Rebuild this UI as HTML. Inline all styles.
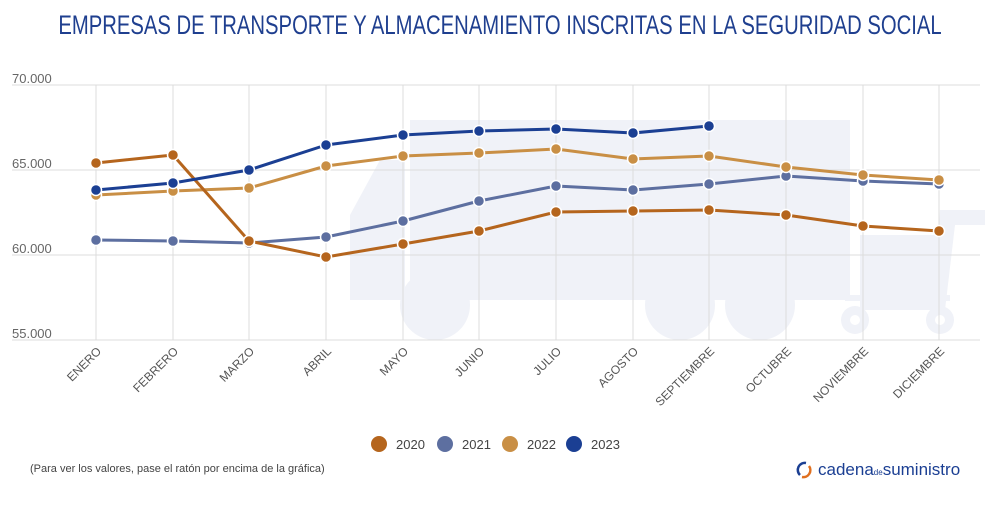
<!DOCTYPE html>
<html><head><meta charset="utf-8"><style>
body{margin:0;background:#fff;width:1000px;height:500px;overflow:hidden;font-family:"Liberation Sans",sans-serif}
</style></head><body>
<svg width="1000" height="500" xmlns="http://www.w3.org/2000/svg" font-family="Liberation Sans, sans-serif">
<text x="500" y="34" text-anchor="middle" font-size="27" fill="#1f3f8f" transform="translate(500,0) scale(0.75,1) translate(-500,0)">EMPRESAS DE TRANSPORTE Y ALMACENAMIENTO INSCRITAS EN LA SEGURIDAD SOCIAL</text>
<!-- watermark -->
<g fill="#f0f2f8">
<rect x="410" y="120" width="440" height="180"/>
<path d="M350 300 L350 215 L380 160 L405 160 L405 300 Z"/>
<circle cx="435" cy="305" r="35"/><circle cx="680" cy="305" r="35"/><circle cx="760" cy="305" r="35"/>
<rect x="860" y="235" width="80" height="75"/>
<path d="M940 210 L985 210 L985 225 L955 225 L945 310 L935 310 Z"/>
<rect x="845" y="295" width="105" height="6"/>
<circle cx="855" cy="320" r="14"/><circle cx="940" cy="320" r="14"/>
</g>
<circle cx="855" cy="320" r="5" fill="#fff"/><circle cx="940" cy="320" r="5" fill="#fff"/>
<!-- grid -->
<g stroke="#dcdcdc" stroke-width="1">
<line x1="12" y1="85" x2="980" y2="85"/><line x1="12" y1="170" x2="980" y2="170"/>
<line x1="12" y1="255" x2="980" y2="255"/><line x1="12" y1="340" x2="980" y2="340"/>
<line x1="96" y1="85" x2="96" y2="340"/><line x1="173" y1="85" x2="173" y2="340"/><line x1="249" y1="85" x2="249" y2="340"/><line x1="326" y1="85" x2="326" y2="340"/><line x1="403" y1="85" x2="403" y2="340"/><line x1="479" y1="85" x2="479" y2="340"/><line x1="556" y1="85" x2="556" y2="340"/><line x1="633" y1="85" x2="633" y2="340"/><line x1="709" y1="85" x2="709" y2="340"/><line x1="786" y1="85" x2="786" y2="340"/><line x1="863" y1="85" x2="863" y2="340"/><line x1="939" y1="85" x2="939" y2="340"/>
</g>
<g font-size="13" fill="#666">
<text x="12" y="83">70.000</text><text x="12" y="168">65.000</text><text x="12" y="253">60.000</text><text x="12" y="338">55.000</text>
</g>
<g font-size="12" fill="#555" text-anchor="end">
<text transform="translate(102,352) rotate(-45)">ENERO</text>
<text transform="translate(179,352) rotate(-45)">FEBRERO</text>
<text transform="translate(255,352) rotate(-45)">MARZO</text>
<text transform="translate(332,352) rotate(-45)">ABRIL</text>
<text transform="translate(409,352) rotate(-45)">MAYO</text>
<text transform="translate(485,352) rotate(-45)">JUNIO</text>
<text transform="translate(562,352) rotate(-45)">JULIO</text>
<text transform="translate(639,352) rotate(-45)">AGOSTO</text>
<text transform="translate(715,352) rotate(-45)">SEPTIEMBRE</text>
<text transform="translate(792,352) rotate(-45)">OCTUBRE</text>
<text transform="translate(869,352) rotate(-45)">NOVIEMBRE</text>
<text transform="translate(945,352) rotate(-45)">DICIEMBRE</text>
</g>
<g fill="none" stroke-width="3" stroke-linejoin="round">
<polyline stroke="#5d6fa0" points="96,240 173,241 249,243 326,237 403,221 479,201 556,186 633,190 709,184 786,176 863,181 939,184"/>
<polyline stroke="#c98f45" points="96,195 173,191 249,188 326,166 403,156 479,153 556,149 633,159 709,156 786,167 863,175 939,180"/>
<polyline stroke="#b5651d" points="96,163 173,155 249,241 326,257 403,244 479,231 556,212 633,211 709,210 786,215 863,226 939,231"/>
<polyline stroke="#1b3f93" points="96,190 173,183 249,170 326,145 403,135 479,131 556,129 633,133 709,126"/>
</g>
<g stroke="#fff" stroke-width="1.5">
<g fill="#5d6fa0"><circle cx="96" cy="240" r="5.5"/><circle cx="173" cy="241" r="5.5"/><circle cx="249" cy="243" r="5.5"/><circle cx="326" cy="237" r="5.5"/><circle cx="403" cy="221" r="5.5"/><circle cx="479" cy="201" r="5.5"/><circle cx="556" cy="186" r="5.5"/><circle cx="633" cy="190" r="5.5"/><circle cx="709" cy="184" r="5.5"/><circle cx="786" cy="176" r="5.5"/><circle cx="863" cy="181" r="5.5"/><circle cx="939" cy="184" r="5.5"/></g>
<g fill="#c98f45"><circle cx="96" cy="195" r="5.5"/><circle cx="173" cy="191" r="5.5"/><circle cx="249" cy="188" r="5.5"/><circle cx="326" cy="166" r="5.5"/><circle cx="403" cy="156" r="5.5"/><circle cx="479" cy="153" r="5.5"/><circle cx="556" cy="149" r="5.5"/><circle cx="633" cy="159" r="5.5"/><circle cx="709" cy="156" r="5.5"/><circle cx="786" cy="167" r="5.5"/><circle cx="863" cy="175" r="5.5"/><circle cx="939" cy="180" r="5.5"/></g>
<g fill="#b5651d"><circle cx="96" cy="163" r="5.5"/><circle cx="173" cy="155" r="5.5"/><circle cx="249" cy="241" r="5.5"/><circle cx="326" cy="257" r="5.5"/><circle cx="403" cy="244" r="5.5"/><circle cx="479" cy="231" r="5.5"/><circle cx="556" cy="212" r="5.5"/><circle cx="633" cy="211" r="5.5"/><circle cx="709" cy="210" r="5.5"/><circle cx="786" cy="215" r="5.5"/><circle cx="863" cy="226" r="5.5"/><circle cx="939" cy="231" r="5.5"/></g>
<g fill="#1b3f93"><circle cx="96" cy="190" r="5.5"/><circle cx="173" cy="183" r="5.5"/><circle cx="249" cy="170" r="5.5"/><circle cx="326" cy="145" r="5.5"/><circle cx="403" cy="135" r="5.5"/><circle cx="479" cy="131" r="5.5"/><circle cx="556" cy="129" r="5.5"/><circle cx="633" cy="133" r="5.5"/><circle cx="709" cy="126" r="5.5"/></g>
</g>
<!-- legend -->
<g font-size="13" fill="#444">
<circle cx="379" cy="444" r="8" fill="#b5651d"/><text x="396" y="449">2020</text>
<circle cx="445" cy="444" r="8" fill="#5d6fa0"/><text x="462" y="449">2021</text>
<circle cx="510" cy="444" r="8" fill="#c98f45"/><text x="527" y="449">2022</text>
<circle cx="574" cy="444" r="8" fill="#1b3f93"/><text x="591" y="449">2023</text>
</g>
<text x="30" y="472" font-size="11" fill="#444">(Para ver los valores, pase el ratón por encima de la gráfica)</text>
<g>
<path d="M806 463 A7 7 0 0 0 800 475" stroke="#1b3f93" stroke-width="2.5" fill="none"/>
<path d="M802 477 A7 7 0 0 0 809 466" stroke="#e07020" stroke-width="2.5" fill="none"/>
<text x="818" y="475" font-size="17" fill="#1b3f93">cadena<tspan font-size="8">de</tspan>suministro</text>
</g>
</svg>
</body></html>
